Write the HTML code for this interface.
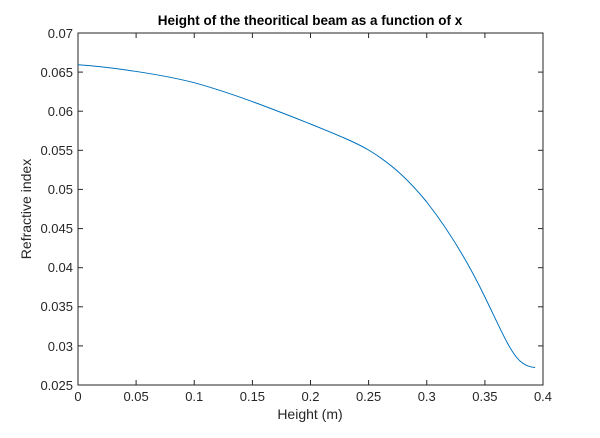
<!DOCTYPE html>
<html><head><style>body{margin:0;background:#fff}</style></head><body>
<svg width="600" height="433" xmlns="http://www.w3.org/2000/svg" font-family="Liberation Sans, sans-serif">
<rect width="600" height="433" fill="#fff"/>
<rect x="78" y="33" width="465" height="352" fill="#fff" stroke="#262626" stroke-width="1"/>
<g stroke="#262626" stroke-width="1">
<line x1="78" y1="385" x2="78" y2="380"/><line x1="136.1" y1="385" x2="136.1" y2="380"/><line x1="194.25" y1="385" x2="194.25" y2="380"/><line x1="252.4" y1="385" x2="252.4" y2="380"/><line x1="310.5" y1="385" x2="310.5" y2="380"/><line x1="368.6" y1="385" x2="368.6" y2="380"/><line x1="426.75" y1="385" x2="426.75" y2="380"/><line x1="484.9" y1="385" x2="484.9" y2="380"/>
<line x1="136.1" y1="33" x2="136.1" y2="38"/><line x1="194.25" y1="33" x2="194.25" y2="38"/><line x1="252.4" y1="33" x2="252.4" y2="38"/><line x1="310.5" y1="33" x2="310.5" y2="38"/><line x1="368.6" y1="33" x2="368.6" y2="38"/><line x1="426.75" y1="33" x2="426.75" y2="38"/><line x1="484.9" y1="33" x2="484.9" y2="38"/>
<line x1="78" y1="72.1" x2="83" y2="72.1"/><line x1="78" y1="111.2" x2="83" y2="111.2"/><line x1="78" y1="150.3" x2="83" y2="150.3"/><line x1="78" y1="189.4" x2="83" y2="189.4"/><line x1="78" y1="228.6" x2="83" y2="228.6"/><line x1="78" y1="267.7" x2="83" y2="267.7"/><line x1="78" y1="306.8" x2="83" y2="306.8"/><line x1="78" y1="345.9" x2="83" y2="345.9"/>
<line x1="543" y1="72.1" x2="538" y2="72.1"/><line x1="543" y1="111.2" x2="538" y2="111.2"/><line x1="543" y1="150.3" x2="538" y2="150.3"/><line x1="543" y1="189.4" x2="538" y2="189.4"/><line x1="543" y1="228.6" x2="538" y2="228.6"/><line x1="543" y1="267.7" x2="538" y2="267.7"/><line x1="543" y1="306.8" x2="538" y2="306.8"/><line x1="543" y1="345.9" x2="538" y2="345.9"/>
</g>
<g font-size="13" fill="#262626" text-anchor="middle">
<text x="78" y="401">0</text><text x="136.1" y="401">0.05</text><text x="194.25" y="401">0.1</text><text x="252.4" y="401">0.15</text><text x="310.5" y="401">0.2</text><text x="368.6" y="401">0.25</text><text x="426.75" y="401">0.3</text><text x="484.9" y="401">0.35</text><text x="543" y="401">0.4</text>
</g>
<g font-size="13" fill="#262626" text-anchor="end">
<text x="73" y="38">0.07</text><text x="73" y="77">0.065</text><text x="73" y="116">0.06</text><text x="73" y="155">0.055</text><text x="73" y="194">0.05</text><text x="73" y="233">0.045</text><text x="73" y="272">0.04</text><text x="73" y="311">0.035</text><text x="73" y="351">0.03</text><text x="73" y="390">0.025</text>
</g>
<text x="310" y="419" font-size="14" fill="#262626" text-anchor="middle">Height (m)</text>
<text transform="translate(31,209) rotate(-90)" font-size="14" fill="#262626" text-anchor="middle">Refractive index</text>
<text x="310" y="25" font-size="13.5" font-weight="bold" fill="#000" text-anchor="middle">Height of the theoritical beam as a function of x</text>
<path fill="none" stroke="#0072bd" stroke-width="1" d="M78,64.8 C110,67 160,74 194.25,82.7 C235,94 275,110 310.5,124 C335,134 355,142 368.6,150 C395,166 412,184 426.75,202 C447,228 467,260 484.9,297 C500,328 510,352 520,361 C526,366 530,367 535,367.5"/>
</svg>
</body></html>
